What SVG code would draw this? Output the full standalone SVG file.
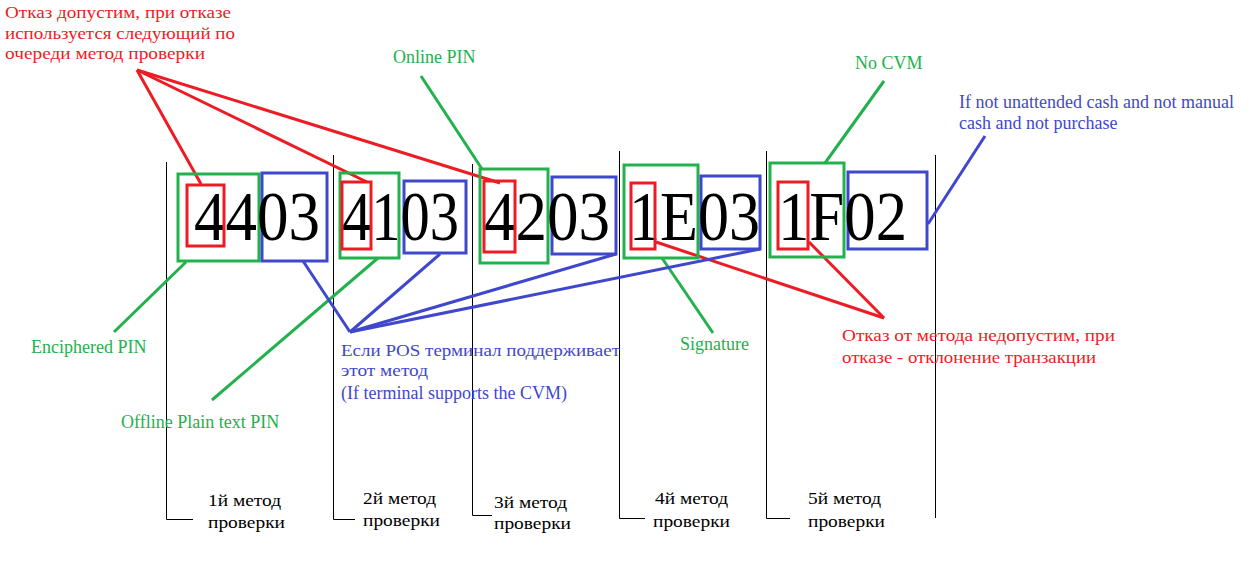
<svg xmlns="http://www.w3.org/2000/svg" width="1250" height="570" viewBox="0 0 1250 570">
<style>
text{font-family:"Liberation Serif","DejaVu Serif","Times New Roman",serif;font-size:18px}
.cy{font-size:17px}
.r{fill:#ED1C24}.g{fill:#22B14C}.b{fill:#3F48CC}.k{fill:#000}
.big{font-size:69px;fill:#000}
.br{fill:none;stroke:#000;stroke-width:1}
.rb{fill:none;stroke:#ED1C24;stroke-width:3}
.gb{fill:none;stroke:#22B14C;stroke-width:3}
.bb{fill:none;stroke:#3F48CC;stroke-width:3}
.rl{stroke:#ED1C24;stroke-width:3;fill:none}
.gl{stroke:#22B14C;stroke-width:3;fill:none}
.bl{stroke:#3F48CC;stroke-width:3;fill:none}
</style>
<rect width="1250" height="570" fill="#fff"/>
<g id="brackets">
<path class="br" d="M166.5,162V519.5H193"/>
<path class="br" d="M333.5,155V519.5H355"/>
<path class="br" d="M472.5,164V515.5H492"/>
<path class="br" d="M619.5,151V518.5H645"/>
<path class="br" d="M766.5,151V518.5H790"/>
<path class="br" d="M935.5,155V518"/>
</g>
<g id="connectors">
<line class="rl" x1="137" y1="70" x2="201" y2="184"/>
<line class="rl" x1="137" y1="70" x2="367" y2="182"/>
<line class="rl" x1="137" y1="70" x2="500" y2="183"/>
<line class="rl" x1="656" y1="242" x2="884" y2="318"/>
<line class="rl" x1="809" y1="242" x2="884" y2="318"/>
<line class="gl" x1="186" y1="262" x2="114" y2="332"/>
<line class="gl" x1="378" y1="258" x2="212" y2="400"/>
<line class="gl" x1="421" y1="76" x2="482" y2="169"/>
<line class="gl" x1="884" y1="81" x2="825" y2="163"/>
<line class="gl" x1="662" y1="258" x2="713" y2="333"/>
<line class="bl" x1="303" y1="261" x2="350" y2="332"/>
<line class="bl" x1="440" y1="254" x2="350" y2="332"/>
<line class="bl" x1="616" y1="254" x2="350" y2="332"/>
<line class="bl" x1="760" y1="249" x2="350" y2="332"/>
<line class="bl" x1="985" y1="136" x2="928" y2="224"/>
</g>
<g id="m1">
<rect class="gb" x="178" y="174" width="81" height="87"/>
<rect class="bb" x="262" y="173" width="65" height="88"/>
<text class="big" x="194" y="240" textLength="126" lengthAdjust="spacingAndGlyphs">4403</text>
<rect class="rb" x="187" y="185" width="37" height="61"/>
</g>
<g id="m2">
<rect class="gb" x="340" y="173" width="59" height="85"/>
<rect class="bb" x="404" y="181" width="62" height="72"/>
<text class="big" x="342" y="240" textLength="117" lengthAdjust="spacingAndGlyphs">4103</text>
<rect class="rb" x="342" y="182" width="29" height="67"/>
</g>
<g id="m3">
<rect class="gb" x="480" y="169" width="68" height="94"/>
<rect class="bb" x="552" y="177" width="64" height="77"/>
<text class="big" x="484" y="240" textLength="126" lengthAdjust="spacingAndGlyphs">4203</text>
<rect class="rb" x="484" y="181" width="31" height="71"/>
</g>
<g id="m4">
<rect class="gb" x="624" y="165" width="74" height="93"/>
<rect class="bb" x="701" y="176" width="59" height="73"/>
<text class="big" x="629" y="240" textLength="131" lengthAdjust="spacingAndGlyphs">1E03</text>
<rect class="rb" x="631" y="183" width="24" height="66"/>
</g>
<g id="m5">
<rect class="gb" x="770" y="163" width="74" height="94"/>
<rect class="bb" x="848" y="172" width="79" height="77"/>
<text class="big" x="778" y="240" textLength="129" lengthAdjust="spacingAndGlyphs">1F02</text>
<rect class="rb" x="778" y="182" width="30" height="67"/>
</g>
<g id="note-fallback">
<text class="r cy" x="5" y="18" textLength="226" lengthAdjust="spacingAndGlyphs">Отказ допустим, при отказе</text>
<text class="r cy" x="5" y="39" textLength="230" lengthAdjust="spacingAndGlyphs">используется следующий по</text>
<text class="r cy" x="5" y="59" textLength="200" lengthAdjust="spacingAndGlyphs">очереди метод проверки</text>
</g>
<g id="note-decline">
<text class="r cy" x="842" y="341" textLength="273" lengthAdjust="spacingAndGlyphs">Отказ от метода недопустим, при</text>
<text class="r cy" x="842" y="363" textLength="254" lengthAdjust="spacingAndGlyphs">отказе - отклонение транзакции</text>
</g>
<g id="label-online"><text class="g" x="393" y="63">Online PIN</text></g>
<g id="label-nocvm"><text class="g" x="855" y="69">No CVM</text></g>
<g id="label-enc"><text class="g" x="31" y="353">Enciphered PIN</text></g>
<g id="label-offline"><text class="g" x="121" y="428">Offline Plain text PIN</text></g>
<g id="label-sig"><text class="g" x="680" y="350">Signature</text></g>
<g id="note-condition">
<text class="b" x="959" y="108">If not unattended cash and not manual</text>
<text class="b" x="959" y="129">cash and not purchase</text>
</g>
<g id="note-supports">
<text class="b cy" x="341" y="356" textLength="279" lengthAdjust="spacingAndGlyphs">Если POS терминал поддерживает</text>
<text class="b cy" x="341" y="376" textLength="87" lengthAdjust="spacingAndGlyphs">этот метод</text>
<text class="b" x="341" y="399">(If terminal supports the CVM)</text>
</g>
<g id="labels-bottom">
<text class="k cy" x="208" y="506" textLength="73" lengthAdjust="spacingAndGlyphs">1й метод</text>
<text class="k cy" x="208" y="528" textLength="77" lengthAdjust="spacingAndGlyphs">проверки</text>
<text class="k cy" x="363" y="504" textLength="73" lengthAdjust="spacingAndGlyphs">2й метод</text>
<text class="k cy" x="363" y="526" textLength="77" lengthAdjust="spacingAndGlyphs">проверки</text>
<text class="k cy" x="494" y="508" textLength="73" lengthAdjust="spacingAndGlyphs">3й метод</text>
<text class="k cy" x="494" y="529" textLength="77" lengthAdjust="spacingAndGlyphs">проверки</text>
<text class="k cy" x="655" y="504" textLength="73" lengthAdjust="spacingAndGlyphs">4й метод</text>
<text class="k cy" x="653" y="527" textLength="77" lengthAdjust="spacingAndGlyphs">проверки</text>
<text class="k cy" x="808" y="504" textLength="73" lengthAdjust="spacingAndGlyphs">5й метод</text>
<text class="k cy" x="808" y="527" textLength="77" lengthAdjust="spacingAndGlyphs">проверки</text>
</g>
</svg>
